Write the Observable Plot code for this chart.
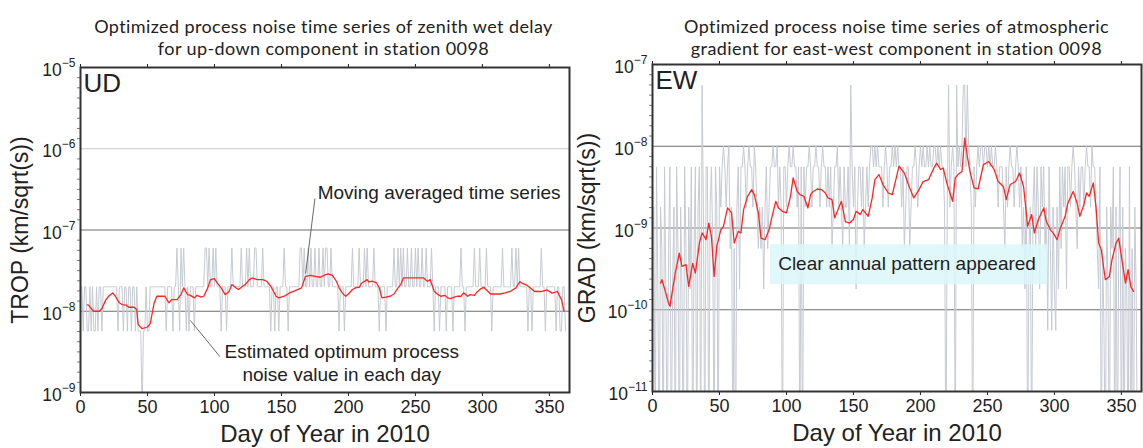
<!DOCTYPE html>
<html><head><meta charset="utf-8">
<script src="https://cdn.jsdelivr.net/npm/d3@7"></script>
<script src="https://cdn.jsdelivr.net/npm/@observablehq/plot@0.6"></script>
<style>
html,body{margin:0;padding:0;background:#fff;}
#wrap{position:relative;width:1143px;height:448px;overflow:hidden;}
.panel{position:absolute;top:0;}
.title{height:58px;box-sizing:border-box;padding-top:15px;font-family:Lato,"Noto Sans",sans-serif;font-size:18px;letter-spacing:0.4px;line-height:22px;text-align:center;color:#222;white-space:nowrap;}
.panel svg{overflow:visible;display:block;}
</style></head>
<body><div id="wrap">
<div class="panel" id="left" style="left:0;width:571px"><div class="title" style="padding-left:78px;padding-right:2px">Optimized process noise time series of zenith wet delay<br>for up-down component in station 0098</div></div>
<div class="panel" id="right" style="left:571px;width:572px"><div class="title" style="padding-left:81px;padding-right:2px">Optimized process noise time series of atmospheric<br>gradient for east-west component in station 0098</div></div>
</div>
<script>
const dayTicks = [0, 50, 100, 150, 200, 250, 300, 350];
const udYTicks = [1e-9, 1e-8, 1e-7, 1e-6, 1e-5];
const ewYTicks = [1e-11, 1e-10, 1e-9, 1e-8, 1e-7];
const minorSteps = [1, 2, 3, 4, 5, 6, 7]; // eighths of a decade

// daily estimated process noise: index into the level lists
const udLevels = [5.6e-10, 5.7e-9, 2e-8, 6e-8];
const udDaily = [
2,1,2,2,1,1,2,1,2,1, 1,2,1,2,2,1,2,2,2,2, 2,2,2,2,2,2,2,1,2,2, 2,1,2,2,1,2,2,1,2,2,
1,2,1,1,1,0,1,1,2,1, 1,2,2,2,2,2,2,2,2,2, 2,2,2,1,2,2,2,2,1,2, 2,3,2,1,3,2,3,2,1,2,
1,2,2,2,1,2,2,2,2,2, 2,2,3,3,2,3,2,2,3,2, 3,2,2,2,1,2,2,2,1,2, 2,2,3,2,2,2,2,2,2,3,
2,2,2,3,2,3,2,2,2,3, 3,2,2,2,2,3,2,2,2,2, 2,1,2,2,1,2,2,1,2,2, 2,3,2,2,1,2,2,2,2,2,
2,2,2,3,3,2,3,2,2,3, 2,3,2,2,3,2,2,3,2,2, 3,2,3,3,2,2,3,2,2,2, 2,2,1,2,2,2,1,2,2,2,
2,2,3,2,2,2,2,3,2,2, 2,3,2,3,2,2,2,2,3,2, 2,2,1,2,2,2,2,1,2,2, 2,2,2,3,2,2,3,2,3,2,
3,2,2,3,2,2,3,2,2,3, 2,3,2,2,3,2,2,3,2,2, 2,3,2,1,2,2,2,1,2,2, 2,2,1,2,2,2,2,1,2,2,
2,2,2,3,2,2,1,2,2,2, 2,2,2,3,2,2,2,3,2,2, 2,2,3,2,2,2,1,2,2,2, 2,2,2,2,3,2,2,2,2,2,
2,3,2,2,3,2,3,2,2,2, 2,2,2,1,2,2,1,2,2,2, 2,2,2,3,2,2,1,2,2,2, 2,2,2,2,1,2,2,1,1,2,
2,1];

const ewLevels = [1e-12, 5.6e-11, 1.8e-10, 5.6e-10, 1.8e-9, 5.6e-9, 1e-8, 5.6e-8];
const ewDaily = [
4,0,5,2,0,4,3,0,5,2, 0,3,5,0,2,4,0,5,3,0, 4,2,0,5,3,0,4,2,5,0, 3,5,0,4,5,0,7,4,0,5,
5,0,4,5,3,0,5,4,0,5, 4,5,6,5,4,5,6,3,4,0, 3,0,4,5,2,5,5,6,5,4, 5,6,5,5,4,6,5,4,3,4,
3,4,2,4,5,3,4,5,5,6, 5,5,6,4,5,4,0,5,5,4, 5,6,5,5,6,5,5,4,5,0, 5,0,5,4,5,5,6,5,4,5,
5,6,5,5,4,5,6,5,5,4, 5,4,5,3,4,5,5,6,4,5, 4,3,5,4,4,5,3,7,5,4, 5,2,4,5,5,4,5,3,4,5,
4,5,6,6,5,6,5,6,5,5, 5,4,5,6,5,4,5,5,6,5, 6,5,6,5,5,4,5,3,4,5, 5,3,4,5,5,6,5,4,5,6,
5,6,5,5,6,5,6,5,5,6, 6,5,6,5,6,5,5,4,0,4, 7,4,5,6,5,0,7,5,6,5, 6,7,7,5,7,6,5,4,0,5,
4,5,6,5,6,6,5,6,6,5, 6,5,6,5,5,6,5,4,5,5, 5,4,3,5,4,5,6,5,5,4, 5,6,5,4,5,3,4,2,5,0,
3,4,0,4,5,3,5,4,2,5, 4,5,3,4,1,5,3,1,4,2, 1,4,2,5,3,5,4,5,2,5, 5,4,5,6,5,4,3,5,4,5,
5,4,5,6,5,5,4,6,5,5, 4,3,2,5,0,3,1,0,4,2, 0,4,3,5,0,4,0,3,5,0, 4,0,3,2,0,5,0,3,0,4,
2,0];

// moving averaged time series
const udAvgDay = [5,6,8,10,14,16,19,21,24,26, 29,31,34,36,40,42,43,46,50,52, 55,57,61,63,66,68,72,75,77,80,
82,85,87,90,92,95,97,100,102,105, 108,111,113,116,118,121,123,126,128,132, 136,139,142,146,148,152,156,159,162,165,
168,172,175,179,183,185,188,191,193,196, 198,200,203,206,208,210,214,215,218,221, 223,225,228,231,234,237,239,241,245,249,
253,256,259,261,264,267,269,272,274,276, 279,281,284,286,289,291,294,296,299,301, 304,306,310,313,317,321,325,328,330,333,
339,344,348,352,356,359,361];
const udAvgVal = [1.2e-8,1.19e-8,1.08e-8,1.0e-8,1.0e-8,1.08e-8,1.39e-8,1.53e-8,1.68e-8,1.53e-8,
1.27e-8,1.21e-8,1.19e-8,1.12e-8,1.12e-8,1.05e-8,0.69e-8,0.61e-8,0.64e-8,0.70e-8,
1.27e-8,1.53e-8,1.53e-8,1.53e-8,1.27e-8,1.39e-8,1.39e-8,1.6e-8,1.94e-8,1.6e-8,
1.57e-8,1.46e-8,1.57e-8,1.49e-8,1.53e-8,1.94e-8,2.45e-8,2.52e-8,2.23e-8,1.94e-8,
1.6e-8,1.76e-8,2.13e-8,1.94e-8,1.85e-8,2.03e-8,2.13e-8,2.45e-8,2.57e-8,2.45e-8,
2.45e-8,2.34e-8,2.03e-8,1.53e-8,1.46e-8,1.53e-8,1.68e-8,1.76e-8,1.85e-8,1.94e-8,
2.69e-8,2.77e-8,2.69e-8,2.62e-8,2.82e-8,2.88e-8,2.77e-8,2.34e-8,1.94e-8,1.63e-8,
1.53e-8,1.63e-8,1.85e-8,1.97e-8,1.97e-8,2.23e-8,2.45e-8,2.30e-8,2.34e-8,2.23e-8,
1.94e-8,1.46e-8,1.49e-8,1.53e-8,1.63e-8,1.94e-8,2.13e-8,2.57e-8,2.57e-8,2.57e-8,
2.57e-8,2.57e-8,2.34e-8,2.45e-8,1.76e-8,1.6e-8,1.53e-8,1.57e-8,1.46e-8,1.43e-8,
1.49e-8,1.53e-8,1.53e-8,1.68e-8,1.53e-8,1.6e-8,1.57e-8,1.73e-8,1.9e-8,1.97e-8,
1.76e-8,1.63e-8,1.63e-8,1.63e-8,1.68e-8,1.76e-8,1.94e-8,2.31e-8,2.2e-8,2.1e-8,
1.75e-8,1.75e-8,1.83e-8,1.67e-8,1.75e-8,1.39e-8,1.0e-8];

const ewAvgDay = [6,7,10,12,13,15,17,20,22,25, 27,30,32,35,37,40,42,44,46,48, 51,53,56,59,61,64,66,68,71,74,
76,79,81,84,87,89,92,94,97,100, 103,105,108,110,113,116,118,120,123,126, 129,131,134,136,139,141,144,147,150,152,
155,157,161,164,166,169,172,176,179,184, 188,191,195,199,202,206,210,212,215,217, 220,224,226,228,231,233,235,237,240,243,
247,251,255,258,262,264,267,271,274,277, 280,283,285,288,292,294,297,299,302,304, 308,310,314,317,319,322,324,326,329,331,
333,335,338,341,343,346,348,350,353,355, 357,359];
const ewAvgVal = [2.12e-10,2.33e-10,1.6e-10,1.2e-10,1.1e-10,1.76e-10,2.8e-10,4.94e-10,3.4e-10,3.56e-10,
1.93e-10,3.7e-10,2.8e-10,6.55e-10,8.7e-10,7.2e-10,1.15e-9,7.9e-10,2.56e-10,5.97e-10,
9.5e-10,1.05e-9,1.76e-9,1.53e-9,6.55e-10,9.1e-10,8.7e-10,1.68e-9,2.44e-9,2.95e-9,
2.56e-9,1.53e-9,7.5e-10,7.2e-10,9.5e-10,1.33e-9,2.12e-9,1.76e-9,1.6e-9,1.53e-9,
2.44e-9,4.1e-9,2.8e-9,2.56e-9,2.44e-9,1.76e-9,2.56e-9,2.8e-9,3.0e-9,2.95e-9,
2.68e-9,2.33e-9,2.22e-9,1.33e-9,1.76e-9,2.12e-9,1.2e-9,1.15e-9,1.27e-9,1.6e-9,
1.46e-9,1.68e-9,1.39e-9,2.33e-9,3.9e-9,4.5e-9,3.4e-9,2.68e-9,2.56e-9,5.7e-9,
4.7e-9,3.4e-9,2.33e-9,2.95e-9,3.7e-9,3.9e-9,5.4e-9,6.2e-9,5.2e-9,5.4e-9,
3.4e-9,2.12e-9,4.1e-9,4.5e-9,4.9e-9,1.26e-8,7.5e-9,4.9e-9,3.1e-9,3.0e-9,
5.97e-9,6.5e-9,5.2e-9,3.7e-9,3.2e-9,2.22e-9,3.4e-9,3.7e-9,4.7e-9,3.2e-9,
1.05e-9,1.46e-9,8.7e-10,1.27e-9,1.76e-9,1.2e-9,9.5e-10,8.7e-10,7.2e-10,9.5e-10,
1.39e-9,2.0e-9,2.8e-9,2.0e-9,1.39e-9,1.93e-9,2.68e-9,2.44e-9,3.56e-9,1.84e-9,
6.55e-10,5.4e-10,2.33e-10,2.56e-10,4.1e-10,6.55e-10,7.5e-10,4.5e-10,2.12e-10,3.1e-10,
1.93e-10,1.68e-10];

const xLabel = "Day of Year in 2010";
const udNotes = ["Moving averaged time series", "Estimated optimum process\nnoise value in each day"];
const ewNote = "Clear annual pattern appeared";

const FONT = "Arial, 'Liberation Sans', sans-serif";

function superscriptTicks(svg) {
  svg.querySelectorAll('g[aria-label="y-axis tick label"] text').forEach(t => {
    const m = t.textContent.match(/^10\^(-?\d+)$/);
    if (!m) return;
    t.textContent = "10";
    const ts = document.createElementNS("http://www.w3.org/2000/svg", "tspan");
    ts.setAttribute("dy", "-0.75em");
    ts.setAttribute("font-size", "12");
    ts.textContent = m[1].replace("-", "\u2212");
    t.appendChild(ts);
  });
}

function makePanel(cfg) {
  const gray = cfg.daily.map((c, i) => ({day: i + 1, v: cfg.levels[c]}));
  const avg = cfg.avgDay.map((d, i) => ({day: d, v: cfg.avgVal[i]}));
  const minor = [];
  for (let k = 0; k < cfg.yTicks.length - 1; k++)
    for (const s of minorSteps) minor.push(cfg.yTicks[k] * Math.pow(10, s / 8));
  const svg = Plot.plot({
    width: cfg.width, height: 390,
    marginLeft: cfg.ml, marginRight: 2, marginTop: cfg.mt, marginBottom: cfg.mb,
    style: {fontFamily: FONT, fontSize: "17px", color: "#222", background: "transparent", overflow: "visible"},
    x: {domain: [0, 365], label: null},
    y: {type: "log", domain: cfg.yDomain, label: null},
    marks: [
      Plot.ruleY(cfg.gridLight, {stroke: "#c8c8c8", strokeWidth: 1.2}),
      Plot.ruleY(cfg.gridDark, {stroke: "#6e6e6e", strokeWidth: 1.2}),
      Plot.line(gray, {x: "day", y: "v", stroke: "#c6cad2", strokeWidth: 1, clip: true}),
      ...cfg.mid,
      Plot.line(avg, {x: "day", y: "v", stroke: "#ff2424", strokeWidth: 1.3, clip: true}),
      ...cfg.extra,
      Plot.axisX({anchor: "bottom", ticks: dayTicks, tickSize: 4, tickPadding: 4, label: null, fontSize: 18}),
      Plot.axisX({anchor: "top", ticks: dayTicks, tickSize: 4, label: null, tickFormat: () => ""}),
      Plot.axisY({anchor: "left", ticks: minor, tickSize: 3, label: null, tickFormat: () => "", strokeOpacity: 0.6}),
      Plot.axisY({anchor: "left", ticks: cfg.yTicks, tickSize: 0, tickPadding: 5, dy: 3, label: null, fontSize: 17.5,
        tickFormat: d => "10^" + Math.round(Math.log10(d))}),
      Plot.frame({stroke: "#333", strokeWidth: 2}),
      Plot.text([cfg.tag], {text: d => d, frameAnchor: "top-left", dx: 3, dy: 6, fontSize: 26, fill: "#222"}),
      Plot.text([xLabel], {text: d => d, frameAnchor: "bottom", lineAnchor: "middle", dy: 42, fontSize: 24, fill: "#222"}),
      Plot.text([cfg.ylabel], {text: d => d, frameAnchor: "left", dx: cfg.ylabelDx, rotate: -90, textAnchor: "middle", lineAnchor: "middle", fontSize: 23, fill: "#222"})
    ]
  });
  superscriptTicks(svg);
  return svg;
}

document.getElementById("left").appendChild(makePanel({
  width: 571, ml: 80, mt: 9, mb: 56,
  yDomain: [1e-9, 1e-5], yTicks: udYTicks,
  gridLight: [1e-6], gridDark: [1e-7, 1e-8],
  daily: udDaily, levels: udLevels, avgDay: udAvgDay, avgVal: udAvgVal,
  tag: "UD", ylabel: "TROP (km/sqrt(s))", ylabelDx: -60,
  mid: [],
  extra: [
    Plot.link([0], {x1: 175, y1: 2.44e-7, x2: 168, y2: 2.9e-8, stroke: "#444", strokeWidth: 0.8}),
    Plot.text([udNotes[0]], {text: d => d, x: 177, y: 2.89e-7, textAnchor: "start", fontSize: 19, fill: "#222"}),
    Plot.link([0], {x1: 82, y1: 7.7e-9, x2: 104, y2: 2.77e-9, stroke: "#444", strokeWidth: 0.8}),
    Plot.text([udNotes[1]], {text: d => d, x: 195, y: 2.37e-9, textAnchor: "middle", lineHeight: 1.22, fontSize: 19, fill: "#222"})
  ]
}));

document.getElementById("right").appendChild(makePanel({
  width: 572, ml: 81, mt: 6, mb: 57,
  yDomain: [1e-11, 1e-7], yTicks: ewYTicks,
  gridLight: [], gridDark: [1e-8, 1e-9, 1e-10],
  daily: ewDaily, levels: ewLevels, avgDay: ewAvgDay, avgVal: ewAvgVal,
  tag: "EW", ylabel: "GRAD (km/sqrt(s))", ylabelDx: -65,
  mid: [
    Plot.rect([0], {x1: 88, x2: 295, y1: 2.02e-10, y2: 6.24e-10, fill: "#dcf7fa", fillOpacity: 0.85})
  ],
  extra: [
    Plot.text([ewNote], {text: d => d, x: 190, y: 3.6e-10, textAnchor: "middle", fontSize: 19, fill: "#222"})
  ]
}));
</script></body></html>
